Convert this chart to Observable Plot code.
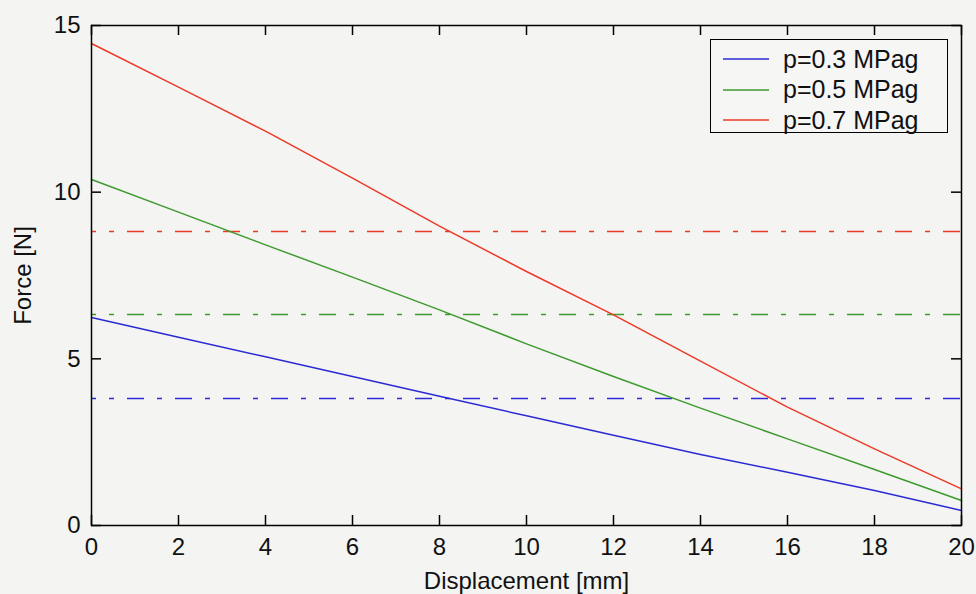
<!DOCTYPE html>
<html>
<head>
<meta charset="utf-8">
<script src="https://cdn.jsdelivr.net/npm/d3@7"></script>
<script src="https://cdn.jsdelivr.net/npm/@observablehq/plot@0.6"></script>
<style>
  html, body { margin: 0; padding: 0; background: #f4f4f2; }
  #wrap { position: relative; width: 976px; height: 594px; font-family: "Liberation Sans", Arial, sans-serif; }
  #legend { position: absolute; left: 710px; top: 39px; width: 236px; height: 92px; border: 1.5px solid #000; background: #f6f6f4; box-sizing: content-box; }
  .row { position: absolute; left: 0; height: 30px; display: flex; align-items: center; font-size: 25px; color: #111; }
  .row svg { margin-left: 12px; margin-right: 14px; }
</style>
</head>
<body>
<div id="wrap"></div>
<script>
// ---- data ----
const displacement = [0, 2, 4, 6, 8, 10, 12, 14, 16, 18, 20];
const force03 = [6.24, 5.65, 5.06, 4.47, 3.88, 3.29, 2.71, 2.13, 1.60, 1.05, 0.45];
const force05 = [10.38, 9.40, 8.42, 7.45, 6.47, 5.45, 4.47, 3.52, 2.60, 1.68, 0.75];
const force07 = [14.46, 13.15, 11.83, 10.42, 8.98, 7.62, 6.32, 4.93, 3.55, 2.30, 1.10];
const seriesNames = ["p=0.3 MPag", "p=0.5 MPag", "p=0.7 MPag"];
const refForce = [3.81, 6.33, 8.82];
const seriesColors = ["#2b2bd6", "#3d9a2e", "#ec3a28"];
const xTicks = [0, 2, 4, 6, 8, 10, 12, 14, 16, 18, 20];
const yTicks = [0, 5, 10, 15];

const allForce = [force03, force05, force07];
const table = [];
allForce.forEach((arr, i) => arr.forEach((f, j) => table.push({d: displacement[j], f, s: seriesNames[i]})));
const refs = refForce.map((f, i) => ({f, s: seriesNames[i]}));

const W = 976, H = 594, mL = 91, mR = 15, mT = 25, mB = 69;
const plotW = W - mL - mR, plotH = H - mT - mB, tk = 10;

const chart = Plot.plot({
  width: W, height: H,
  marginLeft: mL, marginRight: mR, marginTop: mT, marginBottom: mB,
  style: {fontSize: "24px", fontFamily: "Liberation Sans, Arial, sans-serif", background: "#f4f4f2", color: "#111"},
  x: {domain: [0, 20]},
  y: {domain: [0, 15]},
  color: {domain: seriesNames, range: seriesColors},
  marks: [
    Plot.ruleY(refs, {y: "f", stroke: "s", strokeWidth: 1.5, strokeDasharray: "17,13,5,13", strokeDashoffset: 12}),
    Plot.line(table, {x: "d", y: "f", z: "s", stroke: "s", strokeWidth: 1.5}),
    Plot.tickX(xTicks, {x: d => d, insetTop: plotH - tk, stroke: "#000", strokeWidth: 1.5}),
    Plot.tickX(xTicks, {x: d => d, insetBottom: plotH - tk, stroke: "#000", strokeWidth: 1.5}),
    Plot.tickY(yTicks, {y: d => d, insetRight: plotW - tk, stroke: "#000", strokeWidth: 1.5}),
    Plot.tickY(yTicks, {y: d => d, insetLeft: plotW - tk, stroke: "#000", strokeWidth: 1.5}),
    Plot.axisX({ticks: xTicks, tickSize: 0, tickPadding: 12, label: "Displacement [mm]", labelAnchor: "center", labelOffset: 63, labelArrow: "none"}),
    Plot.axisY({ticks: yTicks, tickSize: 0, tickPadding: 11, label: "Force [N]", labelAnchor: "center", labelOffset: 78, labelArrow: "none"}),
    Plot.frame({stroke: "#000", strokeWidth: 1.5})
  ]
});
const wrap = document.getElementById("wrap");
wrap.appendChild(chart);

// legend overlay
const lg = document.createElement("div");
lg.id = "legend";
seriesNames.forEach((name, i) => {
  const row = document.createElement("div");
  row.className = "row";
  row.style.top = (4 + i * 30.5) + "px";
  row.innerHTML = `<svg width="46" height="4"><line x1="0" y1="2" x2="46" y2="2" stroke="${seriesColors[i]}" stroke-width="1.5"/></svg><span>${name}</span>`;
  lg.appendChild(row);
});
wrap.appendChild(lg);
</script>
</body>
</html>
